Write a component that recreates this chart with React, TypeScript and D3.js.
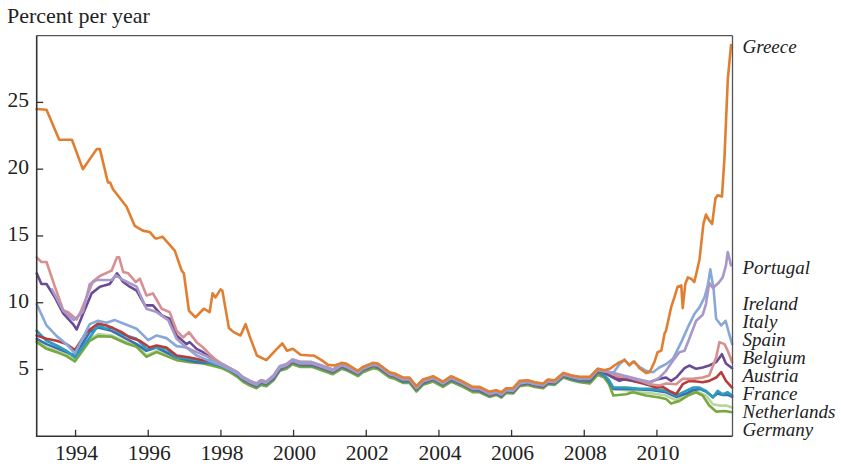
import React from 'react';
import * as d3 from 'd3';

type Pt = [number, number];

const W = 841;
const H = 466;

const yearTicks = [1994, 1996, 1998, 2000, 2002, 2004, 2006, 2008, 2010];
const valueTicks = [5, 10, 15, 20, 25];

// shared dates where all the euro-area yields run together
const convYears = [
  1998.25, 1998.45, 1998.6, 1998.8, 1998.98, 1999.1, 1999.25, 1999.45, 1999.62, 1999.8,
  1999.97, 2000.17, 2000.5, 2000.77, 2001.08, 2001.32, 2001.45, 2001.77, 2001.91, 2002.18,
  2002.32, 2002.64, 2002.78, 2003.01, 2003.19, 2003.38, 2003.56, 2003.84, 2004.11, 2004.34,
  2004.62, 2004.93, 2005.12, 2005.39, 2005.58, 2005.72, 2005.85, 2006.04, 2006.22, 2006.45,
  2006.64, 2006.87, 2007.0, 2007.19, 2007.42, 2007.65, 2007.88, 2008.15, 2008.37,
];

const greece: Pt[] = [
  [1992.93, 24.5], [1993.2, 24.45], [1993.55, 22.2], [1993.9, 22.2], [1994.2, 20.0], [1994.58, 21.5],
  [1994.67, 21.5], [1994.89, 19.0], [1994.95, 19.0], [1995.03, 18.5], [1995.4, 17.2], [1995.63, 15.75],
  [1995.85, 15.4], [1996.04, 15.3], [1996.18, 14.85], [1996.23, 14.8], [1996.39, 14.95], [1996.73, 13.9],
  [1996.92, 12.4], [1996.98, 12.2], [1997.12, 9.4], [1997.3, 8.9], [1997.53, 9.55], [1997.69, 9.3],
  [1997.77, 10.7], [1997.85, 10.4], [1997.99, 11.0], [1998.04, 10.9], [1998.22, 8.1], [1998.35, 7.8],
  [1998.54, 7.55], [1998.68, 8.4], [1998.79, 7.5], [1998.99, 6.05], [1999.25, 5.7], [1999.54, 6.55],
  [1999.69, 6.95], [1999.82, 6.4], [1999.98, 6.55], [2000.19, 6.1], [2000.44, 6.05], [2000.55, 6.05],
  [2000.77, 5.7], [2000.95, 5.35], [2001.13, 5.3], [2001.32, 5.5], [2001.45, 5.45], [2001.77, 4.9],
  [2001.91, 5.2], [2002.18, 5.5], [2002.32, 5.45], [2002.64, 4.8], [2002.78, 4.7], [2003.01, 4.4],
  [2003.19, 4.4], [2003.38, 3.75], [2003.56, 4.25], [2003.84, 4.5], [2004.11, 4.1], [2004.34, 4.5],
  [2004.62, 4.15], [2004.93, 3.7], [2005.12, 3.7], [2005.39, 3.35], [2005.58, 3.45], [2005.72, 3.3],
  [2005.85, 3.6], [2006.04, 3.6], [2006.22, 4.15], [2006.45, 4.2], [2006.64, 4.05], [2006.87, 3.95],
  [2007.0, 4.25], [2007.19, 4.2], [2007.42, 4.75], [2007.65, 4.55], [2007.88, 4.45], [2008.15, 4.45],
  [2008.37, 5.05], [2008.55, 4.95], [2008.7, 5.05], [2008.83, 5.3], [2008.97, 5.55], [2009.11, 5.7],
  [2009.24, 5.35], [2009.38, 5.6], [2009.52, 5.1], [2009.7, 4.75], [2009.8, 4.8], [2009.93, 5.55],
  [2010.02, 6.3], [2010.12, 6.4], [2010.21, 7.7], [2010.25, 7.9], [2010.39, 9.65], [2010.48, 10.4],
  [2010.57, 11.2], [2010.67, 11.3], [2010.71, 9.6], [2010.78, 11.4], [2010.85, 11.9], [2010.94, 11.8],
  [2011.03, 11.55], [2011.17, 13.2], [2011.28, 15.9], [2011.35, 16.6], [2011.43, 16.2], [2011.52, 15.9],
  [2011.61, 17.8], [2011.67, 18.05], [2011.79, 17.95], [2011.86, 20.9], [2011.95, 26.7], [2012.04, 29.3],
];

const portugalEarly: Pt[] = [
  [1993.35, 11.0], [1993.66, 9.4], [1993.95, 8.7], [1994.2, 9.3], [1994.39, 11.4], [1994.58, 11.7],
  [1994.99, 11.7], [1995.11, 12.05], [1995.31, 11.7], [1995.68, 11.2], [1995.95, 9.55], [1996.23, 9.3],
  [1996.55, 8.7], [1996.78, 7.3], [1997.05, 6.65], [1997.33, 6.3], [1997.6, 6.0], [1997.85, 5.6], [1998.02, 5.4],
];
const portugalConv = [
  5.1, 4.8, 4.45, 4.15, 3.95, 4.2, 4.1, 4.55, 5.25, 5.4, 5.75, 5.6, 5.55, 5.3, 5.0, 5.4, 5.3, 4.85, 5.15, 5.45,
  5.4, 4.75, 4.6, 4.3, 4.3, 3.7, 4.15, 4.4, 4.05, 4.4, 4.1, 3.6, 3.6, 3.25, 3.4, 3.2, 3.55, 3.5, 4.05, 4.15,
  4.0, 3.9, 4.2, 4.15, 4.7, 4.5, 4.4, 4.35, 5.0,
];
const portugalLate: Pt[] = [
  [2008.55, 4.9], [2008.79, 4.75], [2009.0, 4.6], [2009.3, 4.4], [2009.6, 4.2], [2009.85, 4.05],
  [2010.07, 4.4], [2010.25, 4.9], [2010.44, 5.65], [2010.62, 6.3], [2010.76, 6.4], [2010.89, 7.3],
  [2011.08, 8.65], [2011.26, 9.1], [2011.35, 9.9], [2011.44, 11.5], [2011.54, 11.1], [2011.7, 11.5],
  [2011.81, 11.9], [2011.9, 12.8], [2011.95, 13.8], [2012.04, 12.8],
];

const irelandEarly: Pt[] = [
  [1992.93, 9.9], [1993.2, 8.3], [1993.48, 7.5], [1993.75, 6.9], [1993.98, 6.2], [1994.39, 8.4],
  [1994.62, 8.65], [1994.85, 8.5], [1995.08, 8.7], [1995.4, 8.35], [1995.68, 8.05], [1996.0, 7.2],
  [1996.23, 7.55], [1996.5, 7.35], [1996.78, 6.75], [1997.05, 6.65], [1997.33, 6.05], [1997.69, 5.65], [1998.02, 5.3],
];
const irelandConv = [
  5.0, 4.7, 4.35, 4.05, 3.85, 4.1, 4.0, 4.45, 5.15, 5.3, 5.65, 5.45, 5.45, 5.2, 4.9, 5.3, 5.2, 4.75, 5.05, 5.35,
  5.3, 4.65, 4.55, 4.25, 4.25, 3.6, 4.1, 4.35, 3.95, 4.35, 4.0, 3.55, 3.55, 3.15, 3.3, 3.1, 3.45, 3.4, 3.95, 4.05,
  3.9, 3.8, 4.1, 4.05, 4.6, 4.45, 4.3, 4.3, 4.95,
];
const irelandLate: Pt[] = [
  [2008.55, 4.85], [2008.8, 4.75], [2008.97, 5.4], [2009.11, 5.75], [2009.24, 5.3], [2009.34, 5.6],
  [2009.52, 5.2], [2009.7, 4.9], [2009.89, 4.8], [2010.07, 5.15], [2010.25, 5.4], [2010.44, 5.8],
  [2010.67, 7.05], [2010.85, 8.15], [2011.03, 9.15], [2011.17, 9.65], [2011.31, 10.4], [2011.4, 11.3],
  [2011.47, 12.5], [2011.56, 11.0], [2011.63, 8.8], [2011.77, 8.3], [2011.89, 8.65], [2012.0, 7.55], [2012.07, 6.9],
];

const italyEarly: Pt[] = [
  [1992.93, 13.4], [1993.06, 13.05], [1993.2, 13.05], [1993.43, 11.2], [1993.66, 9.45], [1993.79, 9.3],
  [1994.03, 8.75], [1994.15, 9.4], [1994.48, 11.6], [1994.67, 12.0], [1994.99, 12.4], [1995.14, 13.4],
  [1995.2, 13.4], [1995.31, 12.3], [1995.45, 12.2], [1995.66, 11.55], [1995.77, 11.8], [1995.95, 10.55],
  [1996.13, 10.7], [1996.37, 9.55], [1996.59, 9.3], [1996.78, 7.9], [1996.96, 7.4], [1997.12, 7.8],
  [1997.33, 7.05], [1997.51, 6.65], [1997.69, 6.15], [1997.83, 5.8], [1998.02, 5.45],
];
const italyConv = [
  5.1, 4.8, 4.45, 4.15, 3.95, 4.2, 4.1, 4.55, 5.25, 5.4, 5.75, 5.55, 5.55, 5.3, 5.0, 5.4, 5.3, 4.85, 5.15, 5.45,
  5.4, 4.75, 4.65, 4.35, 4.35, 3.7, 4.2, 4.45, 4.05, 4.45, 4.1, 3.65, 3.65, 3.3, 3.4, 3.2, 3.55, 3.5, 4.05, 4.15,
  4.0, 3.9, 4.2, 4.15, 4.7, 4.55, 4.4, 4.4, 5.05,
];
const italyLate: Pt[] = [
  [2008.55, 4.95], [2008.75, 4.7], [2008.9, 4.5], [2009.15, 4.45], [2009.34, 4.3], [2009.6, 4.1],
  [2009.8, 3.9], [2010.07, 3.8], [2010.25, 3.95], [2010.53, 3.9], [2010.71, 4.3], [2010.99, 4.3],
  [2011.26, 4.4], [2011.44, 4.55], [2011.63, 5.9], [2011.72, 7.05], [2011.86, 6.9], [2011.95, 6.4], [2012.07, 5.55],
];

const spainEarly: Pt[] = [
  [1992.93, 12.2], [1993.06, 11.4], [1993.2, 11.4], [1993.43, 10.4], [1993.66, 9.2], [1993.93, 8.4],
  [1994.03, 8.0], [1994.21, 9.2], [1994.44, 10.7], [1994.67, 11.2], [1994.94, 11.4], [1995.14, 12.2],
  [1995.31, 11.55], [1995.49, 11.2], [1995.68, 10.9], [1995.91, 9.8], [1996.13, 9.8], [1996.37, 9.05],
  [1996.59, 8.8], [1996.78, 7.55], [1997.05, 6.9], [1997.14, 7.05], [1997.33, 6.55], [1997.51, 6.3],
  [1997.74, 5.8], [1998.02, 5.3],
];
const spainConv = [
  5.05, 4.75, 4.4, 4.1, 3.9, 4.15, 4.05, 4.5, 5.2, 5.35, 5.7, 5.5, 5.5, 5.25, 4.95, 5.35, 5.25, 4.8, 5.1, 5.4,
  5.35, 4.7, 4.6, 4.3, 4.25, 3.65, 4.15, 4.4, 4.0, 4.4, 4.05, 3.55, 3.55, 3.2, 3.3, 3.15, 3.5, 3.45, 4.0, 4.1,
  3.95, 3.85, 4.15, 4.1, 4.65, 4.45, 4.3, 4.25, 4.95,
];
const spainLate: Pt[] = [
  [2008.55, 4.8], [2008.79, 4.4], [2008.97, 4.15], [2009.15, 4.3], [2009.34, 4.15], [2009.52, 4.15],
  [2009.7, 3.9], [2009.89, 4.15], [2010.07, 4.3], [2010.25, 4.4], [2010.39, 4.15], [2010.53, 4.4],
  [2010.76, 5.1], [2010.89, 5.3], [2011.08, 5.05], [2011.26, 5.15], [2011.44, 5.3], [2011.63, 5.55],
  [2011.79, 6.15], [2011.9, 5.45], [2012.07, 5.1],
];

const belgiumEarly: Pt[] = [
  [1992.93, 7.55], [1993.2, 7.3], [1993.48, 7.15], [1993.75, 6.9], [1993.98, 6.45], [1994.3, 7.8],
  [1994.62, 8.45], [1994.85, 8.3], [1994.99, 8.15], [1995.27, 7.8], [1995.49, 7.4], [1995.77, 7.15],
  [1996.04, 6.65], [1996.23, 6.8], [1996.5, 6.65], [1996.78, 6.05], [1997.14, 5.9], [1997.51, 5.7],
  [1997.74, 5.65], [1998.02, 5.35],
];
const belgiumConv = [
  5.0, 4.7, 4.3, 4.0, 3.8, 4.05, 3.95, 4.4, 5.1, 5.25, 5.6, 5.4, 5.4, 5.15, 4.85, 5.25, 5.15, 4.7, 5.0, 5.3,
  5.25, 4.6, 4.5, 4.2, 4.2, 3.55, 4.05, 4.3, 3.9, 4.3, 3.95, 3.5, 3.5, 3.1, 3.25, 3.05, 3.4, 3.35, 3.9, 4.0,
  3.85, 3.75, 4.05, 4.0, 4.55, 4.4, 4.25, 4.2, 4.9,
];
const belgiumLate: Pt[] = [
  [2008.55, 4.75], [2008.75, 4.5], [2008.9, 4.35], [2009.34, 4.15], [2009.7, 3.9], [2009.98, 3.65],
  [2010.16, 3.7], [2010.34, 3.4], [2010.53, 3.15], [2010.71, 3.9], [2010.89, 4.15], [2011.08, 4.1],
  [2011.26, 4.05], [2011.44, 4.15], [2011.63, 4.4], [2011.77, 4.8], [2011.9, 4.15], [2012.07, 3.65],
];

const austriaEarly: Pt[] = [
  [1992.93, 7.9], [1993.2, 7.15], [1993.48, 6.8], [1993.75, 6.4], [1993.98, 5.9], [1994.39, 7.4],
  [1994.62, 8.3], [1994.85, 8.05], [1994.99, 8.15], [1995.27, 7.65], [1995.68, 7.3], [1995.95, 6.55],
  [1996.23, 6.65], [1996.5, 6.55], [1996.78, 5.9], [1997.14, 5.8], [1997.51, 5.65], [1998.02, 5.3],
];
const austriaConv = [
  4.95, 4.65, 4.25, 3.95, 3.75, 4.0, 3.9, 4.35, 5.05, 5.2, 5.55, 5.35, 5.35, 5.1, 4.8, 5.2, 5.1, 4.65, 4.95, 5.25,
  5.2, 4.55, 4.45, 4.15, 4.15, 3.5, 4.0, 4.25, 3.85, 4.25, 3.9, 3.45, 3.45, 3.05, 3.2, 3.0, 3.35, 3.3, 3.85, 3.95,
  3.8, 3.7, 4.0, 3.95, 4.5, 4.35, 4.2, 4.15, 4.85,
];
const austriaLate: Pt[] = [
  [2008.55, 4.6], [2008.68, 4.2], [2008.8, 3.65], [2009.15, 3.65], [2009.52, 3.55], [2009.89, 3.55],
  [2010.25, 3.4], [2010.53, 3.05], [2010.8, 3.4], [2010.99, 3.65], [2011.17, 3.65], [2011.35, 3.4],
  [2011.54, 2.9], [2011.67, 3.4], [2011.81, 3.15], [2011.95, 3.3], [2012.07, 3.05],
];

const franceEarly: Pt[] = [
  [1992.93, 7.3], [1993.2, 6.9], [1993.48, 6.6], [1993.75, 6.3], [1993.98, 6.05], [1994.39, 7.8],
  [1994.62, 8.15], [1994.99, 7.9], [1995.4, 7.3], [1995.68, 6.9], [1995.95, 6.4], [1996.23, 6.65],
  [1996.78, 5.9], [1997.33, 5.55], [1997.7, 5.5], [1998.02, 5.25],
];
const franceConv = [
  4.95, 4.6, 4.25, 3.95, 3.75, 4.0, 3.9, 4.3, 5.0, 5.2, 5.55, 5.35, 5.3, 5.1, 4.8, 5.2, 5.05, 4.65, 4.95, 5.25,
  5.15, 4.55, 4.45, 4.1, 4.15, 3.5, 3.95, 4.25, 3.85, 4.2, 3.9, 3.45, 3.4, 3.05, 3.2, 3.0, 3.35, 3.3, 3.85, 3.95,
  3.8, 3.7, 4.0, 3.95, 4.5, 4.3, 4.15, 4.1, 4.8,
];
const franceLate: Pt[] = [
  [2008.55, 4.55], [2008.68, 4.1], [2008.8, 3.55], [2009.15, 3.55], [2009.52, 3.5], [2009.89, 3.45],
  [2010.25, 3.3], [2010.53, 2.95], [2010.8, 3.2], [2010.99, 3.45], [2011.17, 3.55], [2011.35, 3.35],
  [2011.54, 2.95], [2011.67, 3.2], [2011.81, 3.1], [2011.95, 3.1], [2012.07, 2.95],
];

const netherlandsEarly: Pt[] = [
  [1992.93, 7.15], [1993.2, 6.65], [1993.48, 6.4], [1993.75, 6.15], [1993.98, 5.7], [1994.39, 7.3],
  [1994.62, 7.65], [1994.99, 7.55], [1995.4, 7.05], [1995.68, 6.8], [1995.95, 6.05], [1996.23, 6.4],
  [1996.78, 5.8], [1997.14, 5.65], [1997.51, 5.55], [1997.88, 5.3], [1998.02, 5.2],
];
const netherlandsConv = [
  4.9, 4.55, 4.2, 3.9, 3.7, 3.95, 3.85, 4.3, 5.0, 5.15, 5.5, 5.3, 5.3, 5.05, 4.75, 5.15, 5.05, 4.6, 4.9, 5.2,
  5.15, 4.5, 4.4, 4.1, 4.1, 3.45, 3.95, 4.2, 3.8, 4.2, 3.85, 3.4, 3.4, 3.0, 3.15, 2.95, 3.3, 3.25, 3.8, 3.9,
  3.75, 3.65, 3.95, 3.9, 4.45, 4.3, 4.15, 4.05, 4.75,
];
const netherlandsLate: Pt[] = [
  [2008.55, 4.5], [2008.68, 4.05], [2008.8, 3.55], [2009.15, 3.45], [2009.52, 3.3], [2009.89, 3.2],
  [2010.25, 3.05], [2010.53, 2.7], [2010.8, 3.15], [2011.08, 3.4], [2011.35, 3.05], [2011.54, 2.4],
  [2011.72, 2.3], [2011.9, 2.3], [2012.07, 2.15],
];

const germanyEarly: Pt[] = [
  [1992.93, 7.05], [1993.2, 6.55], [1993.48, 6.3], [1993.75, 6.0], [1993.98, 5.6], [1994.39, 7.15],
  [1994.62, 7.5], [1994.99, 7.45], [1995.4, 6.95], [1995.68, 6.7], [1995.95, 5.95], [1996.23, 6.3],
  [1996.78, 5.7], [1997.14, 5.55], [1997.51, 5.45], [1997.88, 5.2], [1998.02, 5.1],
];
const germanyConv = [
  4.8, 4.45, 4.1, 3.8, 3.6, 3.85, 3.75, 4.2, 4.9, 5.05, 5.4, 5.2, 5.2, 4.95, 4.65, 5.05, 4.95, 4.5, 4.8, 5.1,
  5.05, 4.4, 4.3, 4.0, 4.0, 3.35, 3.85, 4.1, 3.7, 4.1, 3.75, 3.3, 3.3, 2.95, 3.1, 2.9, 3.25, 3.2, 3.75, 3.85,
  3.7, 3.6, 3.9, 3.85, 4.4, 4.2, 4.05, 3.95, 4.6,
];
const germanyLate: Pt[] = [
  [2008.55, 4.4], [2008.68, 3.9], [2008.8, 3.05], [2009.15, 3.15], [2009.34, 3.3], [2009.7, 3.05],
  [2010.07, 2.9], [2010.25, 2.8], [2010.39, 2.45], [2010.62, 2.65], [2010.85, 3.05], [2011.08, 3.3],
  [2011.26, 3.05], [2011.44, 2.3], [2011.63, 1.85], [2011.86, 1.9], [2012.07, 1.8],
];

const joinParts = (early: Pt[], conv: number[], late: Pt[]): Pt[] => [
  ...early,
  ...conv.map((v, i) => [convYears[i], v] as Pt),
  ...late,
];

// drawing order: bottom first
const series = [
  { name: 'Netherlands', color: '#b7d69d', points: joinParts(netherlandsEarly, netherlandsConv, netherlandsLate) },
  { name: 'Germany', color: '#78a83e', points: joinParts(germanyEarly, germanyConv, germanyLate) },
  { name: 'France', color: '#3b6fb1', points: joinParts(franceEarly, franceConv, franceLate) },
  { name: 'Austria', color: '#2c9dbd', points: joinParts(austriaEarly, austriaConv, austriaLate) },
  { name: 'Belgium', color: '#b63d3c', points: joinParts(belgiumEarly, belgiumConv, belgiumLate) },
  { name: 'Spain', color: '#6a4b95', points: joinParts(spainEarly, spainConv, spainLate) },
  { name: 'Italy', color: '#d88f8f', points: joinParts(italyEarly, italyConv, italyLate) },
  { name: 'Ireland', color: '#88a8d9', points: joinParts(irelandEarly, irelandConv, irelandLate) },
  { name: 'Portugal', color: '#a898c9', points: joinParts(portugalEarly, portugalConv, portugalLate) },
  { name: 'Greece', color: '#e07f31', points: greece },
];

const labelOrder = ['Greece', 'Portugal', 'Ireland', 'Italy', 'Spain', 'Belgium', 'Austria', 'France', 'Netherlands', 'Germany'];

const frame = { left: 36.7, top: 35.6, right: 732.5, bottom: 436.3 };

export default function App() {
  const x = d3.scaleLinear().domain([1992.93, 2012.08]).range([frame.left, frame.right]);
  const y = d3.scaleLinear().domain([0, 30]).range([frame.bottom, frame.top]);

  const line = d3
    .line<Pt>()
    .x((d) => x(d[0]))
    .y((d) => y(d[1]));

  const lastVal = (name: string) => {
    const s = series.find((d) => d.name === name)!;
    return s.points[s.points.length - 1][1];
  };

  // label baselines: the two high ones sit next to their line ends, the rest are stacked
  const labelY = (name: string, i: number) => {
    if (name === 'Greece' || name === 'Portugal') return y(lastVal(name)) + 8.5;
    return 310 + (i - 2) * 18;
  };

  const font = "'Liberation Serif', 'Times New Roman', serif";

  return (
    <svg
      width={W}
      height={H}
      style={{ position: 'absolute', left: 0, top: 0, background: '#fff' }}
      fontFamily={font}
    >
      <text x={7} y={23} fontSize={22} fill="#222">
        Percent per year
      </text>

      <g>
        {series.map((s) => (
          <path
            key={s.name}
            d={line(s.points) || ''}
            fill="none"
            stroke={s.color}
            strokeWidth={2.6}
            strokeLinejoin="round"
            strokeLinecap="round"
          />
        ))}
      </g>

      {/* frame */}
      <line x1={frame.left} x2={frame.right} y1={frame.top} y2={frame.top} stroke="#555" strokeWidth={1.3} />
      <line x1={frame.right} x2={frame.right} y1={frame.top} y2={frame.bottom} stroke="#555" strokeWidth={1.3} />
      <line x1={frame.left} x2={frame.left} y1={frame.top} y2={frame.bottom + 0.6} stroke="#333" strokeWidth={1.6} />
      <line x1={frame.left} x2={frame.right} y1={frame.bottom} y2={frame.bottom} stroke="#333" strokeWidth={1.6} />

      {valueTicks.map((v) => (
        <g key={v}>
          <line x1={frame.left} x2={frame.left + 6.5} y1={y(v)} y2={y(v)} stroke="#333" strokeWidth={1.3} />
          <text x={29} y={y(v) + 5} fontSize={21.5} textAnchor="end" fill="#222">
            {v}
          </text>
        </g>
      ))}

      {yearTicks.map((t) => (
        <g key={t}>
          <line x1={x(t)} x2={x(t)} y1={frame.bottom} y2={frame.bottom - 6.5} stroke="#333" strokeWidth={1.3} />
          <text x={x(t) + 1} y={460} fontSize={21.5} textAnchor="middle" fill="#222">
            {t}
          </text>
        </g>
      ))}

      {labelOrder.map((name, i) => (
        <text key={name} x={742.5} y={labelY(name, i)} fontSize={19} fontStyle="italic" fill="#222">
          {name}
        </text>
      ))}
    </svg>
  );
}
